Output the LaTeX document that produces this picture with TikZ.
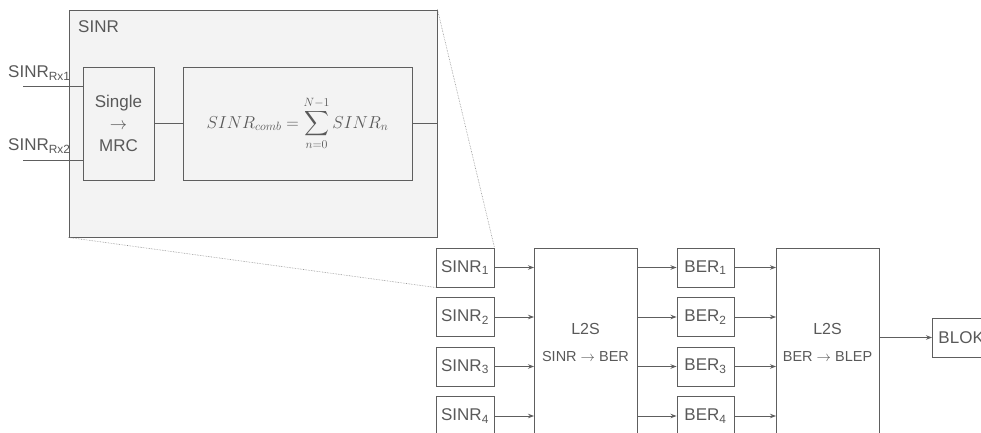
\documentclass[tikz,border=0pt]{standalone}
\usepackage{amsmath}
\usepackage{fontspec}
\setmainfont{Liberation Sans}
\usetikzlibrary{arrows.meta}
\definecolor{ln}{HTML}{5E5E5E}
\definecolor{tx}{HTML}{595959}
\definecolor{fillg}{HTML}{F3F3F3}
\tikzset{
  box/.style={draw=ln, line width=0.95pt, rectangle, inner sep=0pt, text=tx, font=\fontsize{17}{20}\selectfont},
  wire/.style={draw=ln, line width=0.95pt},
  arr/.style={draw=ln, line width=0.95pt, -{Stealth[length=6pt,width=4.5pt]}},
  zoomline/.style={draw=ln!70, line width=0.6pt, densely dotted},
  lbl/.style={text=tx, inner sep=0pt, font=\fontsize{17}{20}\selectfont},
}
\begin{document}
\begin{tikzpicture}[x=1pt,y=-1pt]
\useasboundingbox (0,0) rectangle (981,433);
\clip (0,0) rectangle (981,433);
% zoomed SINR block
\node[box, fill=fillg, minimum width=368pt, minimum height=227pt] (big) at (253,123.5) {};
\node[lbl, anchor=west] (bigl) at (78,27) {SINR};
\node[box, fill=fillg, minimum width=71pt, minimum height=113pt, align=center] (single) at (118.5,123.5) {Single\\[2pt]$\rightarrow$\\[2pt]MRC};
\node[box, fill=fillg, minimum width=229pt, minimum height=113pt] (form) at (297.5,123.5)
  {\fontsize{17.28}{20}\selectfont $\displaystyle SINR_{comb} = \sum_{n=0}^{N-1} SINR_n$};
\coordinate (in1) at (23,86);
\coordinate (in2) at (23,160);
\node[lbl, anchor=west] (rx1) at (8,73) {SINR\textsubscript{Rx1}};
\node[lbl, anchor=west] (rx2) at (8,146) {SINR\textsubscript{Rx2}};
\draw[wire] (in1) -- (in1 -| single.west);
\draw[wire] (in2) -- (in2 -| single.west);
\draw[wire] (single.east) -- (form.west);
\draw[wire] (form.east) -- (form.east -| big.east);
% chain
\foreach \i/\y in {1/267.5,2/317,3/366.5,4/416}{
  \node[box, minimum width=58pt, minimum height=39pt] (s\i) at (465,\y) {SINR\textsubscript{\i}};
  \node[box, minimum width=57pt, minimum height=39pt] (b\i) at (705.5,\y) {BER\textsubscript{\i}};
}
\node[box, minimum width=103pt, minimum height=240pt, anchor=north west] (l1) at (534,248) {};
\node[box, minimum width=103pt, minimum height=240pt, anchor=north west] (l2) at (776,248) {};
\node[lbl, font=\fontsize{16}{19}\selectfont] (l1a) at (585.5,329) {L2S};
\node[lbl, font=\fontsize{14.5}{17}\selectfont] (l1b) at (585.5,357) {SINR $\rightarrow$ BER};
\node[lbl, font=\fontsize{16}{19}\selectfont] (l2a) at (827.5,329) {L2S};
\node[lbl, font=\fontsize{14.5}{17}\selectfont] (l2b) at (827.5,357) {BER $\rightarrow$ BLEP};
\node[box, minimum height=39pt, inner xsep=6pt, anchor=west] (blok) at (932,337.5) {BLOK};
\foreach \i in {1,2,3,4}{
  \draw[arr] (s\i.east) -- (s\i.east -| l1.west);
  \draw[arr] (s\i.east -| l1.east) -- (b\i.west);
  \draw[arr] (b\i.east) -- (b\i.east -| l2.west);
}
\draw[arr] (blok.west -| l2.east) -- (blok.west);
% zoom lines
\draw[zoomline] (big.north east) -- (s1.north east);
\draw[zoomline] (big.south west) -- (s1.south west);
\end{tikzpicture}
\end{document}
